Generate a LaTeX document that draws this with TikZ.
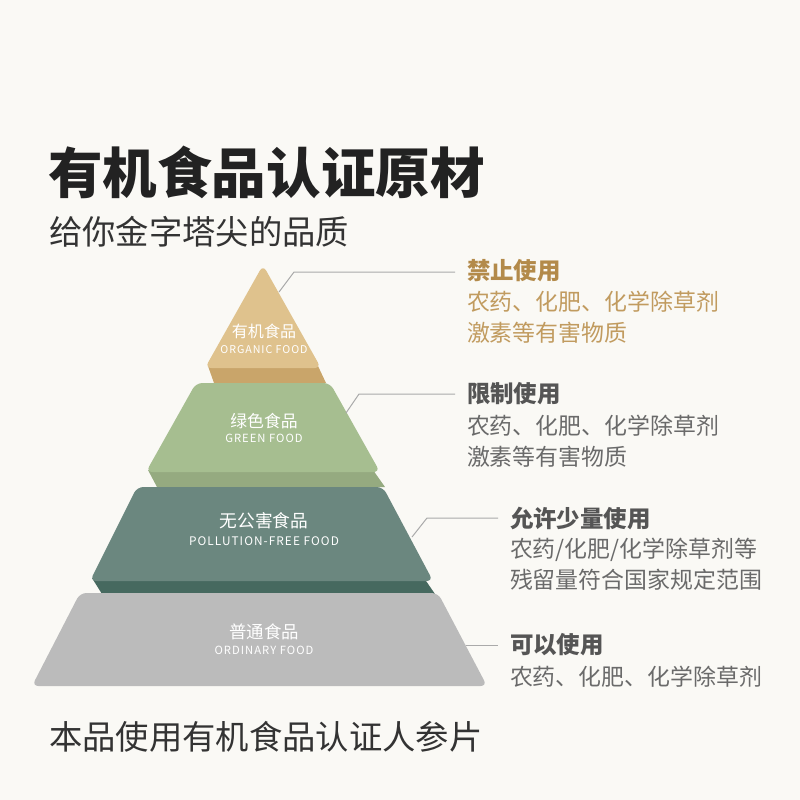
\documentclass[tikz,border=0pt]{standalone}
\usepackage{fontspec}
\setmainfont{Noto Sans CJK SC}
\usetikzlibrary{positioning}
\definecolor{paper}{HTML}{FAF9F5}
\definecolor{ink}{HTML}{222222}
\definecolor{subink}{HTML}{333333}
\definecolor{tanface}{HTML}{DFC28D}
\definecolor{tanside}{HTML}{C9A56A}
\definecolor{greenface}{HTML}{A6BE90}
\definecolor{greenside}{HTML}{95AA80}
\definecolor{tealface}{HTML}{6B877F}
\definecolor{tealside}{HTML}{46695F}
\definecolor{grayface}{HTML}{BBBBBB}
\definecolor{rulegray}{HTML}{AAAAAA}
\definecolor{tanhead}{HTML}{B38A4A}
\definecolor{tantext}{HTML}{C19B5F}
\definecolor{grayhead}{HTML}{555555}
\definecolor{graytext}{HTML}{6A6A6A}
\tikzstyle{tier} = [rounded corners=1.6mm]
\tikzstyle{tiername} = [text=white, inner sep=0pt, font=\fontsize{12}{14}\selectfont]
\tikzstyle{tiereng} = [text=white, inner sep=0pt,
  font=\fontsize{8}{10}\selectfont\addfontfeature{LetterSpace=9}]
\tikzstyle{leader} = [draw=rulegray, line width=0.25mm]
\tikzstyle{rulehead} = [anchor=west, inner sep=0pt, outer xsep=3mm,
  font=\fontsize{16.7}{22}\selectfont\bfseries]
\tikzstyle{ruletext} = [anchor=west, inner sep=0pt, outer xsep=3mm, align=left,
  font=\fontsize{16.3}{22.05}\selectfont]

\begin{document}
\begin{tikzpicture}[x=0.25mm, y=-0.25mm]
    \fill[paper] (0,0) rectangle (800,800);
    \useasboundingbox (0,0) rectangle (800,800);

    % titles
    \node[anchor=west, inner sep=0pt, text=ink, font=\fontsize{38.8}{44}\selectfont\bfseries]
        (title) at (48,172) {有机食品认证原材};
    \node[anchor=west, inner sep=0pt, text=subink, font=\fontsize{23.7}{28}\selectfont]
        (subtitle) at (49,232) {给你金字塔尖的品质};
    \node[anchor=west, inner sep=0pt, text=subink, font=\fontsize{23.7}{28}\selectfont]
        (footer) at (49,737) {本品使用有机食品认证人参片};

    % side bands
    \fill[tanside] (208,366) -- (318,366) -- (326,383) -- (214,383) -- cycle;
    \fill[greenside] (148,470) -- (373,470) -- (385,487) -- (157,487) -- cycle;
    \fill[tealside] (92,578) -- (424,578) -- (435,594) -- (102,594) -- cycle;

    % faces
    \fill[tanface, tier] (263,265) -- (321,368) -- (205,368) -- cycle;
    \fill[greenface, tier] (196,383) -- (330,383) -- (380,472) -- (146,472) -- cycle;
    \fill[tealface, tier] (137,487) -- (383,487) -- (433,581) -- (90,581) -- cycle;
    \fill[grayface, tier] (80,593) -- (438,593) -- (487,686) -- (32,686) -- cycle;

    \node[tiername, font=\fontsize{11.4}{13}\selectfont] (n1) at (264,331) {有机食品};
    \node[tiereng, font=\fontsize{7.6}{9}\selectfont\addfontfeature{LetterSpace=9}]
        (e1) at (264,350) {ORGANIC FOOD};
    \node[tiername] (n2) at (264,421) {绿色食品};
    \node[tiereng] (e2) at (264,438) {GREEN FOOD};
    \node[tiername, font=\fontsize{12.6}{14}\selectfont] (n3) at (264,521) {无公害食品};
    \node[tiereng, font=\fontsize{8.4}{10}\selectfont\addfontfeature{LetterSpace=9}]
        (e3) at (264,541) {POLLUTION-FREE FOOD};
    \node[tiername, font=\fontsize{12.4}{14}\selectfont] (n4) at (264,632) {普通食品};
    \node[tiereng] (e4) at (264,650) {ORDINARY FOOD};

    % rules on the right
    \node[rulehead, text=tanhead] (h1) at (455,271) {禁止使用};
    \node[ruletext, text=tantext] (t1) at (455,317.5) {农药、化肥、化学除草剂\\激素等有害物质};
    \node[rulehead, text=grayhead] (h2) at (455,394) {限制使用};
    \node[ruletext, text=graytext] (t2) at (455,441) {农药、化肥、化学除草剂\\激素等有害物质};
    \node[rulehead, text=grayhead] (h3) at (498,518) {允许少量使用};
    \node[ruletext, text=graytext] (t3) at (498,564.5) {农药/化肥/化学除草剂等\\残留量符合国家规定范围};
    \node[rulehead, text=grayhead] (h4) at (498,645) {可以使用};
    \node[ruletext, text=graytext] (t4) at (498,677) {农药、化肥、化学除草剂};

    \coordinate (p1) at (279,292);
    \coordinate (k1) at (294,272);
    \coordinate (p2) at (346,413);
    \coordinate (k2) at (359,394);
    \coordinate (p3) at (412,537);
    \coordinate (k3) at (427,518);
    \coordinate (p4) at (466,645);
    \draw[leader] (p1) -- (k1) -- (h1.west |- k1);
    \draw[leader] (p2) -- (k2) -- (h2.west |- k2);
    \draw[leader] (p3) -- (k3) -- (h3.west |- k3);
    \draw[leader] (p4) -- (h4.west);
\end{tikzpicture}
\end{document}
